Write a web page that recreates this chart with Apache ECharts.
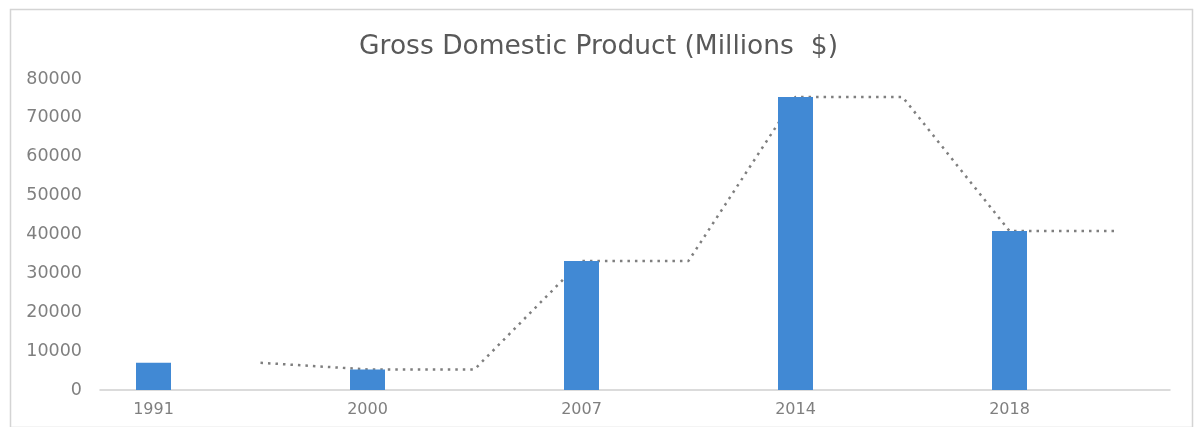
<!DOCTYPE html>
<html>
<head>
<meta charset="utf-8">
<title>Gross Domestic Product</title>
<script src="https://cdn.jsdelivr.net/npm/echarts@6/dist/echarts.min.js"></script>
<style>
  html, body { margin: 0; padding: 0; background: #ffffff; }
  #chart { width: 1197px; height: 427px; }
</style>
</head>
<body>
<div id="chart"></div>
<script>
// GDP in millions of dollars for each survey year
const years = ['1991', '2000', '2007', '2014', '2018'];
const gdp = [7000, 5300, 33200, 75400, 40900];
const yTicks = [0, 10000, 20000, 30000, 40000, 50000, 60000, 70000, 80000];

// Bars sit at integer positions on a numeric x scale
const barData = gdp.map((v, i) => [i, v]);

// Two-period trend: each value is held for half a period, then moves to the next one
const trendData = [[0.5, gdp[0]]];
for (let i = 1; i < gdp.length; i++) {
  trendData.push([i, gdp[i]]);
  trendData.push([i + 0.5, gdp[i]]);
}

const chart = echarts.init(document.getElementById('chart'), null, { renderer: 'canvas' });

chart.setOption({
  backgroundColor: '#ffffff',
  animation: false,
  title: {
    text: 'Gross Domestic Product (Millions  $)',
    left: 'center',
    top: 29,
    textStyle: {
      fontFamily: 'DejaVu Sans',
      fontSize: 26.5,
      fontWeight: 'normal',
      color: '#595959'
    }
  },
  graphic: [{
    type: 'rect',
    left: 8,
    top: 7,
    shape: { width: 1182, height: 418 },
    style: { fill: 'none', stroke: '#d4d4d4', lineWidth: 1.5 },
    silent: true
  }],
  grid: { left: 100, right: 27, top: 79, bottom: 37 },
  xAxis: {
    type: 'value',
    min: -0.25,
    max: 4.75,
    splitLine: { show: false },
    axisLine: { show: true, lineStyle: { color: '#cfcfcf', width: 1.5 } },
    axisTick: { show: false },
    axisLabel: {
      customValues: [0, 1, 2, 3, 4],
      formatter: (v) => years[Math.round(v)],
      margin: 12,
      fontFamily: 'DejaVu Sans',
      fontSize: 16,
      color: '#7f7f7f'
    }
  },
  yAxis: {
    type: 'value',
    min: yTicks[0],
    max: yTicks[yTicks.length - 1],
    interval: yTicks[1] - yTicks[0],
    splitLine: { show: false },
    axisLine: { show: false },
    axisTick: { show: false },
    axisLabel: {
      margin: 18,
      formatter: (v) => String(v),
      fontFamily: 'DejaVu Sans',
      fontSize: 17.5,
      color: '#7f7f7f'
    }
  },
  series: [
    {
      name: 'GDP',
      type: 'bar',
      data: barData,
      barWidth: 35,
      z: 3,
      itemStyle: { color: '#4189d4' }
    },
    {
      name: 'Trend',
      type: 'line',
      data: trendData,
      z: 2,
      symbol: 'none',
      lineStyle: { color: '#7f7f7f', width: 2.5, type: [2.5, 5] }
    }
  ]
});
</script>
</body>
</html>
